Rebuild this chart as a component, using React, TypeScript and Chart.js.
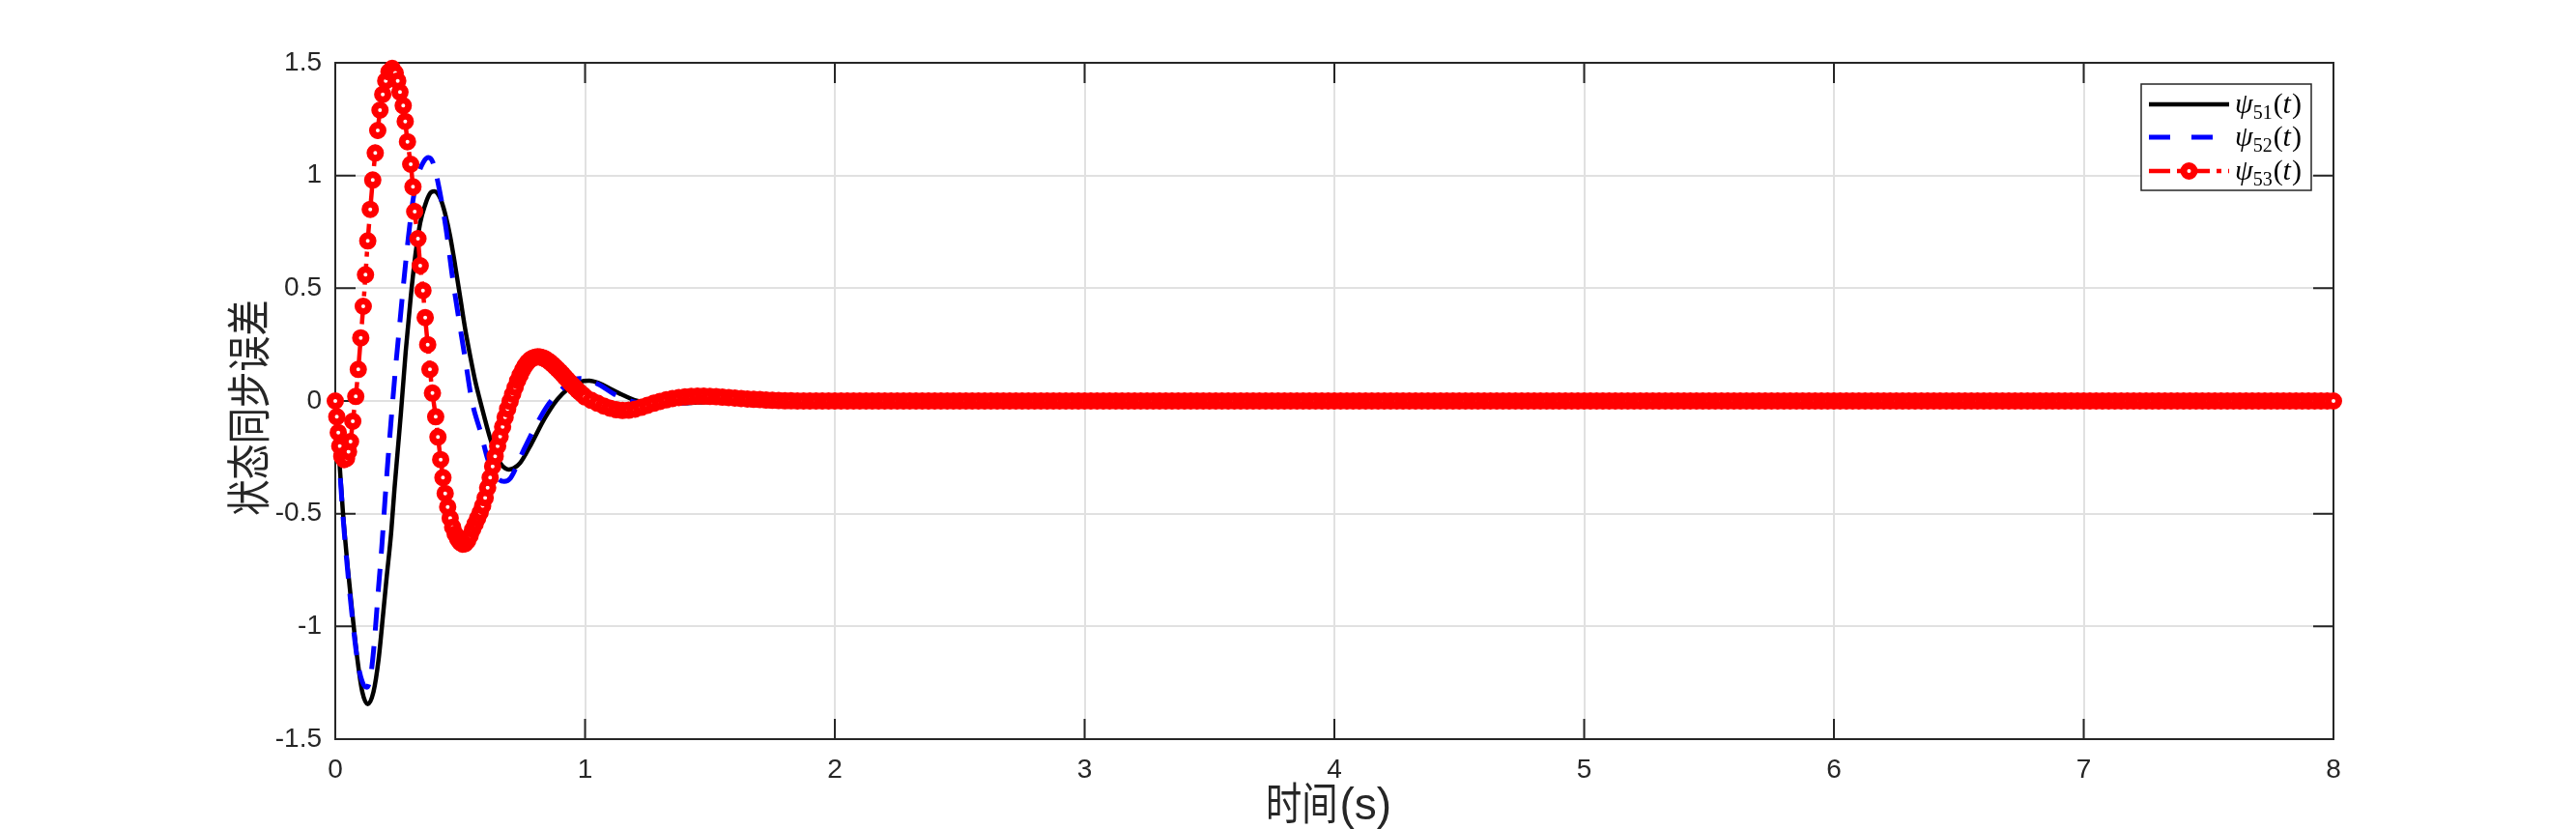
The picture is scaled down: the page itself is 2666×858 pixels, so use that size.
import React, { useEffect, useRef } from 'react';
import { Chart, registerables } from 'chart.js';

Chart.register(...registerables);

// ---------- axis ticks / labels ----------
const xTickValues = [0, 1, 2, 3, 4, 5, 6, 7, 8];
const xTickLabels = ['0', '1', '2', '3', '4', '5', '6', '7', '8'];
const yTickValues = [-1.5, -1, -0.5, 0, 0.5, 1, 1.5];
const yTickLabels = ['-1.5', '-1', '-0.5', '0', '0.5', '1', '1.5'];
const xTitleCJK = '时间';
const xTitleLatin = '(s)';
const yTitle = '状态同步误差';
const seriesSubscripts = ['51', '52', '53'];

// ---------- series psi_51 (black) ----------
const blackT = [0, 0.016, 0.031, 0.05, 0.07, 0.089, 0.108, 0.13, 0.153, 0.173, 0.192, 0.205, 0.224, 0.237, 0.25, 0.263,
  0.282, 0.302, 0.321, 0.34, 0.36, 0.379, 0.396, 0.42, 0.44, 0.46, 0.48, 0.5, 0.52, 0.54, 0.56, 0.58, 0.6, 0.62, 0.64,
  0.66, 0.68, 0.695, 0.715, 0.74, 0.785, 0.837, 0.889, 0.933, 0.98, 1.017, 1.056, 1.1, 1.133, 1.21, 1.3, 1.4, 1.5, 1.6,
  2, 3, 4, 5, 6, 7, 8];
const blackY = [0, -0.26, -0.5, -0.74, -0.96, -1.15, -1.29, -1.345, -1.29, -1.15, -0.94, -0.79, -0.58, -0.39, -0.22, -0.05,
  0.22, 0.46, 0.65, 0.79, 0.87, 0.92, 0.93, 0.9, 0.83, 0.73, 0.6, 0.46, 0.32, 0.2, 0.09, 0.0, -0.085, -0.165, -0.23,
  -0.275, -0.298, -0.304, -0.298, -0.275, -0.19, -0.08, 0.007, 0.055, 0.085, 0.09, 0.079, 0.055, 0.036, 0, -0.012, -0.01, -0.004, 0,
  0, 0, 0, 0, 0, 0, 0];

// ---------- series psi_52 (blue dashed) ----------
const blueT = [0, 0.016, 0.03, 0.05, 0.07, 0.09, 0.108, 0.126, 0.14, 0.153, 0.173, 0.186, 0.199, 0.211, 0.224, 0.24,
  0.257, 0.276, 0.293, 0.311, 0.331, 0.353, 0.373, 0.39, 0.411, 0.444, 0.469, 0.495, 0.521, 0.547, 0.585, 0.611,
  0.643, 0.676, 0.701, 0.753, 0.798, 0.85, 0.901, 0.94, 0.979, 1.02, 1.06, 1.108, 1.133, 1.2, 1.3, 1.45, 1.6,
  2, 3, 4, 5, 6, 7, 8];
const blueY = [0, -0.27, -0.5, -0.76, -0.98, -1.16, -1.245, -1.27, -1.23, -1.11, -0.83, -0.65, -0.44, -0.26, -0.08, 0.13,
  0.33, 0.55, 0.73, 0.89, 1.0, 1.06, 1.08, 1.06, 0.97, 0.76, 0.55, 0.36, 0.18, 0.0, -0.15, -0.26,
  -0.335, -0.357, -0.343, -0.22, -0.12, -0.02, 0.045, 0.085, 0.1, 0.09, 0.07, 0.036, 0.021, -0.005, -0.012, -0.005, 0,
  0, 0, 0, 0, 0, 0, 0];

// ---------- series psi_53 (red, dash-dot with circle markers) ----------
const redT = [0, 0.006, 0.012, 0.018, 0.026, 0.035, 0.045, 0.053, 0.061, 0.07, 0.082, 0.092, 0.102, 0.112, 0.121, 0.13,
  0.14, 0.15, 0.16, 0.17, 0.179, 0.19, 0.202, 0.215, 0.228, 0.24, 0.25, 0.259, 0.272, 0.28, 0.289, 0.302, 0.311,
  0.318, 0.331, 0.34, 0.351, 0.36, 0.37, 0.379, 0.389, 0.402, 0.411, 0.422, 0.431, 0.44,
  0.45, 0.46, 0.47, 0.48, 0.49, 0.5, 0.51, 0.52, 0.53, 0.54, 0.55, 0.56, 0.57, 0.58, 0.59, 0.6, 0.61, 0.62, 0.63,
  0.64, 0.65, 0.66, 0.67, 0.68, 0.69, 0.7, 0.71, 0.72, 0.73, 0.74, 0.75, 0.76, 0.77, 0.78, 0.79, 0.8, 0.81, 0.82,
  0.83, 0.84, 0.85, 0.86, 0.87, 0.88, 0.89, 0.9, 0.91, 0.92, 0.93, 0.94, 0.95, 0.96, 0.97, 0.98, 0.99, 1.0];
const redY = [0, -0.07, -0.14, -0.2, -0.245, -0.26, -0.255, -0.225, -0.18, -0.09, 0.02, 0.14, 0.28, 0.42, 0.56, 0.71,
  0.85, 0.98, 1.1, 1.2, 1.29, 1.36, 1.42, 1.46, 1.475, 1.455, 1.42, 1.37, 1.31, 1.24, 1.15, 1.05, 0.95,
  0.84, 0.72, 0.6, 0.49, 0.37, 0.25, 0.14, 0.035, -0.07, -0.16, -0.26, -0.34, -0.41,
  -0.47, -0.52, -0.56, -0.59, -0.612, -0.627, -0.635, -0.633, -0.62, -0.597, -0.57, -0.545, -0.52, -0.495, -0.465, -0.43, -0.385, -0.34, -0.29,
  -0.245, -0.2, -0.158, -0.115, -0.072, -0.035, -0.002, 0.03, 0.06, 0.09, 0.115, 0.138, 0.157, 0.172, 0.183, 0.19, 0.194, 0.196, 0.195,
  0.192, 0.187, 0.18, 0.172, 0.162, 0.152, 0.141, 0.13, 0.118, 0.106, 0.094, 0.082, 0.07, 0.059, 0.048, 0.038, 0.028, 0.018];
// red samples after t = 1.0, every 0.025 s, from 1.025 up to 8.0
const redTailStart = 1.025;
const redTailStep = 0.025;
const redTailY = [
  0.003, -0.01, -0.022, -0.032, -0.039, -0.042, -0.041, -0.036, -0.028, -0.019,
  -0.01, -0.002, 0.005, 0.011, 0.015, 0.018, 0.02, 0.021, 0.021, 0.02,
  0.019, 0.017, 0.015, 0.013, 0.011, 0.009, 0.007, 0.006, 0.004, 0.003,
  0.002, 0.001, 0.001, 0, 0, 0, 0, 0, 0, 0,
  0, 0, 0, 0, 0, 0, 0, 0, 0, 0, 0, 0, 0, 0, 0, 0, 0, 0, 0, 0, 0, 0, 0, 0, 0, 0, 0, 0, 0, 0,
  0, 0, 0, 0, 0, 0, 0, 0, 0, 0, 0, 0, 0, 0, 0, 0, 0, 0, 0, 0, 0, 0, 0, 0, 0, 0, 0, 0, 0, 0,
  0, 0, 0, 0, 0, 0, 0, 0, 0, 0, 0, 0, 0, 0, 0, 0, 0, 0, 0, 0, 0, 0, 0, 0, 0, 0, 0, 0, 0, 0,
  0, 0, 0, 0, 0, 0, 0, 0, 0, 0, 0, 0, 0, 0, 0, 0, 0, 0, 0, 0, 0, 0, 0, 0, 0, 0, 0, 0, 0, 0,
  0, 0, 0, 0, 0, 0, 0, 0, 0, 0, 0, 0, 0, 0, 0, 0, 0, 0, 0, 0, 0, 0, 0, 0, 0, 0, 0, 0, 0, 0,
  0, 0, 0, 0, 0, 0, 0, 0, 0, 0, 0, 0, 0, 0, 0, 0, 0, 0, 0, 0, 0, 0, 0, 0, 0, 0, 0, 0, 0, 0,
  0, 0, 0, 0, 0, 0, 0, 0, 0, 0, 0, 0, 0, 0, 0, 0, 0, 0, 0, 0, 0, 0, 0, 0, 0, 0, 0, 0, 0, 0,
  0, 0, 0, 0, 0, 0, 0, 0, 0, 0, 0, 0, 0, 0, 0, 0, 0, 0, 0, 0, 0, 0, 0, 0, 0, 0, 0, 0, 0, 0,
];

const AXIS_COLOR = '#262626';
const GRID_COLOR = '#e1e1e1';
const SANS = "'Liberation Sans', Arial, sans-serif";
const SERIF = "'Liberation Serif', 'DejaVu Serif', serif";
const CJK = "'Noto Sans CJK SC', sans-serif";

const BLACK_STYLE = { color: '#000000', width: 4.5, dash: [] as number[] };
const BLUE_STYLE = { color: '#0000ff', width: 5, dash: [24, 16] };
const RED_STYLE = { color: '#ff0000', width: 4.5, dash: [22, 7, 5, 7] };
const RED_MARKER = { radius: 5.5, border: 7 };

const toPoints = (t: number[], y: number[]) => t.map((tv, i) => ({ x: tv, y: y[i] }));

const matlabPlugin = {
  id: 'matlabLook',
  beforeDatasetsDraw(chart: any) {
    const { ctx, chartArea: a, scales } = chart;
    ctx.save();
    ctx.strokeStyle = AXIS_COLOR;
    ctx.lineWidth = 2;
    ctx.strokeRect(a.left, a.top, a.right - a.left, a.bottom - a.top);
    const TL = 21;
    ctx.beginPath();
    xTickValues.forEach((v) => {
      const px = scales.x.getPixelForValue(v);
      ctx.moveTo(px, a.bottom); ctx.lineTo(px, a.bottom - TL);
      ctx.moveTo(px, a.top); ctx.lineTo(px, a.top + TL);
    });
    yTickValues.forEach((v) => {
      const py = scales.y.getPixelForValue(v);
      ctx.moveTo(a.left, py); ctx.lineTo(a.left + TL, py);
      ctx.moveTo(a.right, py); ctx.lineTo(a.right - TL, py);
    });
    ctx.stroke();
    ctx.restore();
  },
  afterDraw(chart: any) {
    const { ctx } = chart;
    ctx.save();
    // ----- x title -----
    const cjkSize = 46, sx = 0.81;
    ctx.font = `${cjkSize}px ${CJK}`;
    const wCJK = ctx.measureText(xTitleCJK).width * sx;
    ctx.font = `46px ${SANS}`;
    const wLat = ctx.measureText(xTitleLatin).width;
    const xCenter = 1374;
    const base = 848;
    const x0 = xCenter - (wCJK + wLat) / 2;
    ctx.fillStyle = AXIS_COLOR;
    ctx.textBaseline = 'alphabetic';
    ctx.textAlign = 'left';
    ctx.save();
    ctx.translate(x0, base);
    ctx.scale(sx, 1);
    ctx.font = `${cjkSize}px ${CJK}`;
    ctx.fillText(xTitleCJK, 0, 0);
    ctx.restore();
    ctx.font = `46px ${SANS}`;
    ctx.fillText(xTitleLatin, x0 + wCJK + 2, base);

    // ----- y title -----
    ctx.save();
    ctx.translate(257, 422);
    ctx.rotate(-Math.PI / 2);
    ctx.scale(sx, 1);
    ctx.font = `${cjkSize}px ${CJK}`;
    ctx.textAlign = 'center';
    ctx.textBaseline = 'middle';
    ctx.fillText(yTitle, 0, 0);
    ctx.restore();

    // ----- legend -----
    const bx = 2216, by = 87, bw = 176, bh = 110;
    ctx.fillStyle = '#ffffff';
    ctx.fillRect(bx, by, bw, bh);
    ctx.strokeStyle = AXIS_COLOR;
    ctx.lineWidth = 1.5;
    ctx.strokeRect(bx, by, bw, bh);
    const rows = [108, 142, 177];
    const styles = [BLACK_STYLE, BLUE_STYLE, RED_STYLE];
    const lx0 = 2224, lx1 = 2307;
    rows.forEach((ry, i) => {
      const st = styles[i];
      ctx.save();
      ctx.strokeStyle = st.color;
      ctx.lineWidth = st.width;
      ctx.setLineDash(i === 1 ? [22, 22] : st.dash);
      ctx.beginPath();
      ctx.moveTo(lx0, ry);
      ctx.lineTo(lx1, ry);
      ctx.stroke();
      ctx.restore();
      if (i === 2) {
        ctx.save();
        ctx.beginPath();
        ctx.arc((lx0 + lx1) / 2, ry, RED_MARKER.radius, 0, Math.PI * 2);
        ctx.fillStyle = '#ffffff';
        ctx.fill();
        ctx.lineWidth = RED_MARKER.border;
        ctx.strokeStyle = RED_STYLE.color;
        ctx.stroke();
        ctx.restore();
      }
      // label  psi_{5x}(t)
      let tx = 2313;
      const bl = ry + 9;
      ctx.fillStyle = '#000000';
      ctx.textAlign = 'left';
      ctx.textBaseline = 'alphabetic';
      ctx.font = `italic 30px ${SERIF}`;
      ctx.fillText('ψ', tx, bl); tx += ctx.measureText('ψ').width;
      ctx.font = `20px ${SERIF}`;
      ctx.fillText(seriesSubscripts[i], tx, bl + 6); tx += ctx.measureText(seriesSubscripts[i]).width + 1;
      ctx.font = `30px ${SERIF}`;
      ctx.fillText('(', tx, bl); tx += ctx.measureText('(').width;
      ctx.font = `italic 30px ${SERIF}`;
      ctx.fillText('t', tx, bl); tx += ctx.measureText('t').width + 1;
      ctx.font = `30px ${SERIF}`;
      ctx.fillText(')', tx, bl);
    });
    ctx.restore();
  },
};

export default function App() {
  const canvasRef = useRef<HTMLCanvasElement | null>(null);

  useEffect(() => {
    if (!canvasRef.current) return;
    const redTailT = redTailY.map((_, i) => redTailStart + i * redTailStep);
    const redPoints = toPoints(redT, redY).concat(toPoints(redTailT, redTailY));

    const chart = new Chart(canvasRef.current, {
      type: 'line',
      data: {
        datasets: [
          {
            label: 'psi53',
            data: redPoints,
            order: 0,
            borderColor: RED_STYLE.color,
            borderWidth: RED_STYLE.width,
            borderDash: RED_STYLE.dash,
            pointRadius: RED_MARKER.radius,
            pointBorderWidth: RED_MARKER.border,
            pointBackgroundColor: '#ffffff',
            pointBorderColor: RED_STYLE.color,
            cubicInterpolationMode: 'monotone',
            clip: false as any,
          },
          {
            label: 'psi52',
            data: toPoints(blueT, blueY),
            order: 1,
            borderColor: BLUE_STYLE.color,
            borderWidth: BLUE_STYLE.width,
            borderDash: BLUE_STYLE.dash,
            pointRadius: 0,
            cubicInterpolationMode: 'monotone',
          },
          {
            label: 'psi51',
            data: toPoints(blackT, blackY),
            order: 2,
            borderColor: BLACK_STYLE.color,
            borderWidth: BLACK_STYLE.width,
            pointRadius: 0,
            cubicInterpolationMode: 'monotone',
          },
        ],
      },
      options: {
        responsive: false,
        animation: false,
        events: [],
        layout: { padding: { left: 0, right: 251, top: 65, bottom: 0 } },
        plugins: { legend: { display: false }, tooltip: { enabled: false }, title: { display: false } },
        scales: {
          x: {
            type: 'linear',
            min: 0,
            max: 8,
            afterFit: (s: any) => { s.height = 93; },
            afterBuildTicks: (s: any) => { s.ticks = xTickValues.map((v) => ({ value: v })); },
            border: { display: false },
            grid: { color: GRID_COLOR, lineWidth: 2, drawTicks: false },
            ticks: {
              autoSkip: false,
              maxRotation: 0,
              padding: 15,
              color: AXIS_COLOR,
              font: { family: SANS, size: 28 },
              callback: (v: any) => xTickLabels[xTickValues.indexOf(Number(v))] ?? '',
            },
          },
          y: {
            type: 'linear',
            min: -1.5,
            max: 1.5,
            afterFit: (s: any) => { s.width = 347; },
            afterBuildTicks: (s: any) => { s.ticks = yTickValues.map((v) => ({ value: v })); },
            border: { display: false },
            grid: { color: GRID_COLOR, lineWidth: 2, drawTicks: false },
            ticks: {
              autoSkip: false,
              padding: 14,
              color: AXIS_COLOR,
              font: { family: SANS, size: 28 },
              callback: (v: any) => yTickLabels[yTickValues.indexOf(Number(v))] ?? '',
            },
          },
        },
      },
      plugins: [matlabPlugin],
    });
    return () => chart.destroy();
  }, []);

  return (
    <div style={{ position: 'absolute', left: 0, top: 0, width: 2666, height: 858, background: '#ffffff' }}>
      <canvas ref={canvasRef} width={2666} height={858} style={{ display: 'block' }} />
    </div>
  );
}
